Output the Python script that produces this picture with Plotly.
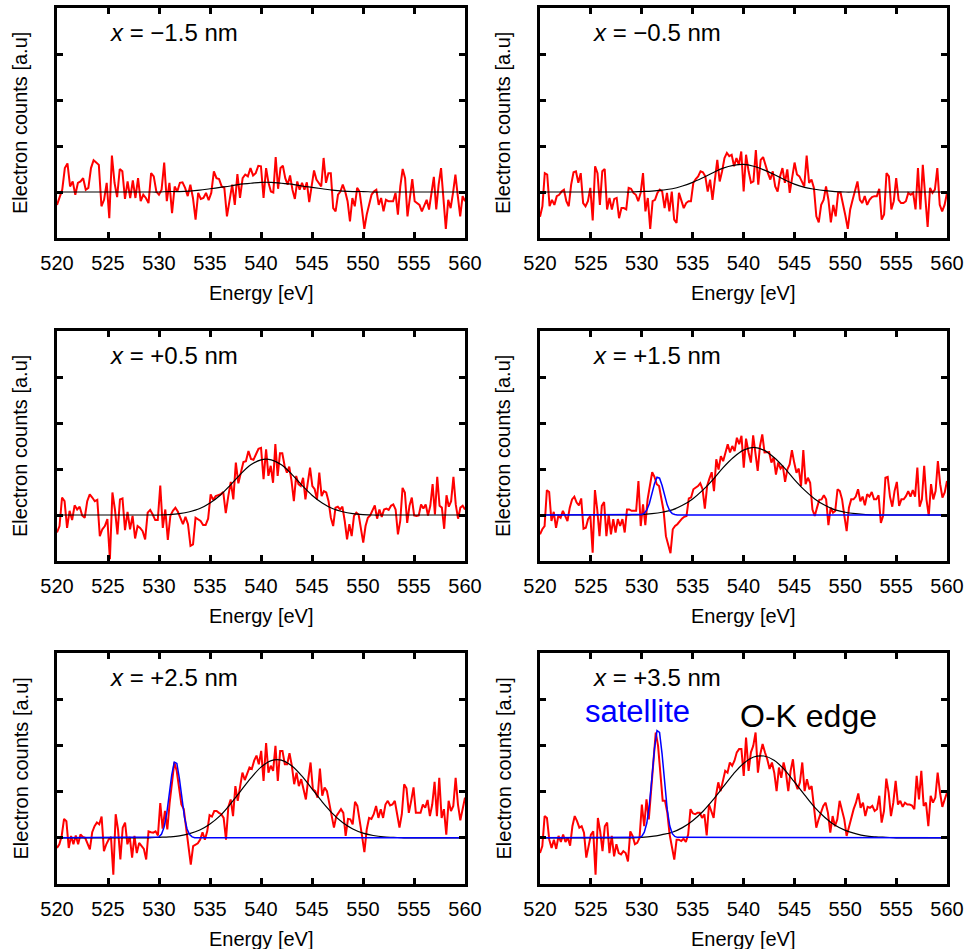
import numpy as np
import plotly.graph_objects as go

# ---------------- data ----------------
# counts in units of the y-tick spacing, baseline = 0
p1_lo = [-0.28, -0.13, 0.05, 0.52, 0.62, 0.12, 0.23, -0.06, 0.2, 0.23,
         0.3, 0.05, 0.09, 0.52, 0.69, 0.64, 0.59, -0.31, -0.17, 0.2,
         -0.57, 0.79, 0.2, -0.11, 0.5, 0.45, -0.15, 0.23, -0.13, 0.25,
         -0.13, 0.3, -0.2, -0.06, -0.13, -0.24, 0.41, 0.34, 0.01, -0.06,
         0.05, 0.64, -0.2, 0.2, -0.46, 0.12, 0.01, 0.2, 0.21, 0.09,
         -0.09, 0.16, -0.13, -0.6, -0.02, -0.15, -0.13, -0.02, -0.18, -0.02,
         0.45, 0.3, 0.28, 0.12, 0.09, -0.53, -0.13, 0.16, -0.28, 0.39,
         -0.13, 0.3, 0.38, 0.34, 0.52, 0.36, 0.41, 0.57, 0.56, -0.13]
p1_hi = [0.52, 0.2, 0.01, -0.01, 0.76, 0.07, 0.52, 0.57, 0.3, 0.16,
         0.36, 0.05, -0.15, 0.23, 0.05, 0.2, 0.05, 0.21, -0.22, 0.12,
         0.47, 0.27, 0.2, 0.12, 0.74, 0.2, 0.41, 0.41, -0.35, -0.42,
         -0.06, 0.01, 0.16, 0.01, -0.2, -0.64, -0.13, -0.31, 0.09, 0.01,
         -0.38, -0.8, -0.49, -0.28, -0.06, 0.01, 0.05, -0.28, -0.13, -0.42,
         -0.17, -0.2, -0.2, -0.2, -0.02, -0.49, 0.12, 0.5, 0.3, -0.53,
         -0.13, 0.28, -0.2, -0.24, -0.28, -0.42, -0.28, -0.17, -0.38, -0.02,
         0.33, -0.38, 0.16, 0.52, -0.06, -0.8, -0.17, -0.35, -0.02, 0.38,
         -0.09, -0.53, -0.09, -0.2]

p2_lo = [-0.54, -0.31, 0.41, 0.38, -0.31, -0.17, -0.28, -0.09, -0.06, 0.01,
         0.05, -0.2, -0.31, 0.16, 0.43, 0.45, 0.2, 0.41, -0.24, -0.31,
         -0.2, 0.09, -0.62, 0.56, 0.41, -0.28, 0.45, 0.5, -0.38, -0.13,
         -0.38, -0.15, -0.13, -0.57, -0.35, -0.35, -0.38, 0.09, 0.07, -0.02,
         -0.06, -0.2, -0.02, 0.41, -0.42, -0.13, -0.8, -0.2, -0.17, -0.02,
         0.05, 0.01, -0.35, -0.02, -0.42, 0.01, -0.6, -0.67, -0.02, -0.17,
         -0.35, -0.24, -0.2, -0.2, 0.2, 0.28, 0.34, 0.45, 0.43, 0.34,
         0.01, 0.27, -0.17, 0.27, 0.7, 0.23, 0.45, 0.74, 0.85, 0.78,
         0.81, 0.56, 0.74, 0.59, 0.88, 0.01, 0.81]
p2_hi = [0.45, 0.2, 0.23, 0.91, 0.16, 0.7, 0.76, 0.56, 0.41, 0.27,
         0.45, 0.12, 0.01, 0.34, 0.52, 0.2, 0.49, -0.02, 0.34, 0.64,
         0.38, 0.34, 0.23, 0.12, 0.79, 0.2, 0.27, 0.09, -0.53, -0.66,
         -0.28, -0.17, 0.12, -0.17, -0.66, -0.28, -0.53, -0.02, -0.01, -0.24,
         -0.51, -0.8, -0.38, -0.17, 0.01, 0.23, -0.17, -0.24, -0.09, -0.28,
         -0.17, -0.11, -0.09, -0.09, 0.07, -0.6, -0.49, 0.41, 0.34, -0.38,
         -0.2, 0.3, -0.17, -0.24, -0.24, -0.2, -0.02, -0.06, -0.02, -0.38,
         0.52, -0.38, 0.59, -0.17, -0.76, 0.09, -0.02, 0.05, 0.52, -0.28,
         -0.42, -0.28, -0.02]

p3_lo = [-0.38, -0.24, 0.38, 0.3, -0.28, 0.09, -0.11, 0.21, 0.12, 0.18,
         -0.01, -0.06, 0.3, 0.45, 0.38, 0.3, 0.33, -0.46, -0.31, -0.24,
         -0.09, -0.96, 0.49, 0.12, -0.42, 0.34, 0.36, -0.33, 0.07, -0.31,
         -0.02, -0.51, -0.24, -0.28, -0.35, -0.53, 0.05, 0.11, 0.01, -0.11,
         -0.11, 0.64, -0.28, 0.12, -0.54, -0.02, 0.09, 0.16, 0.07, -0.09,
         -0.2, -0.04, -0.2, -0.67, -0.64, -0.06, -0.09, -0.13, -0.22, -0.22,
         -0.08, 0.45, 0.33, 0.41, 0.43, 0.45, 0.5, 0.04, 0.41, 0.72,
         0.34, 1.14, 0.69, 0.92, 1.15, 1.17, 1.39, 1.22, 1.2, 1.32,
         1.44, 1.46, 0.78]
p3_hi = [1.43, 0.85, 1.07, 0.7, 1.54, 0.85, 1.34, 1.34, 1.07, 0.92,
         1.05, 0.74, 0.3, 0.85, 0.67, 0.63, 0.81, 0.34, 0.7, 1.03,
         0.63, 0.56, 0.34, 0.92, 0.41, 0.52, 0.49, 0.3, -0.06, -0.24,
         0.16, 0.18, 0.12, 0.18, -0.13, -0.53, -0.2, -0.46, -0.02, 0.05,
         0.01, -0.31, -0.6, -0.24, -0.06, -0.01, 0.09, 0.21, -0.08, 0.12,
         -0.04, 0.12, 0.14, 0.11, 0.2, 0.23, 0.12, -0.42, -0.13, 0.59,
         0.49, -0.17, 0.2, 0.38, -0.01, -0.02, -0.01, 0.23, 0.14, 0.23,
         -0.01, 0.2, 0.67, 0.01, 0.83, 0.2, 0.16, -0.3, 0.43, 0.18,
         0.3, 0.83, 0.23, -0.08, 0.16, 0.2, 0.12]

p4_lo = [-0.42, -0.31, -0.24, 0.54, 0.5, -0.13, 0.07, -0.28, -0.02, -0.06,
         0.09, -0.02, -0.13, 0.16, 0.34, 0.4, 0.27, 0.21, 0.36, -0.3,
         -0.28, -0.09, -0.02, -0.82, 0.54, 0.12, -0.46, 0.2, 0.28, -0.46,
         0.01, -0.42, -0.09, -0.38, -0.09, -0.24, -0.09, -0.38, 0.12, 0.12,
         0.09, 0.09, 0.09, 0.74, -0.24, 0.23, -0.22, 0.34, 0.63, 0.93,
         0.83, 0.67, 0.63, 0.38, 0.09, -0.46, -0.64, -0.83, -0.31, -0.24,
         -0.2, -0.13, -0.08, -0.04, -0.02, 0.36, 0.38, 0.56, 0.59, 0.63,
         0.69, 0.56, 0.14, 0.63, 0.79, 0.93, 0.52, 1.21, 0.99, 1.28,
         1.17, 1.39, 1.54, 1.36, 1.5, 1.39, 1.68, 1.54, 1.72, 1.03,
         1.66]
p4_hi = [1.36, 1.14, 1.73, 1.3, 0.96, 1.5, 1.75, 1.36, 1.36, 1.37,
         1.14, 1.25, 0.88, 1.14, 1.01, 1.07, 0.72, 0.99, 1.1, 1.41,
         1.14, 0.92, 1.01, 0.63, 1.41, 0.67, 0.81, 0.7, 0.12, -0.02,
         0.16, 0.33, 0.34, 0.43, 0.34, -0.22, 0.16, 0.05, 0.09, 0.56,
         0.52, 0.34, -0.02, -0.35, 0.16, 0.34, 0.34, 0.4, 0.56, 0.3,
         0.4, 0.21, 0.45, 0.4, 0.5, 0.34, 0.34, 0.43, -0.17, -0.02,
         0.81, 0.83, 0.4, 0.18, 0.52, 0.72, 0.2, 0.34, 0.34, 0.41,
         0.52, 0.4, 0.54, 0.4, 1.03, 0.18, 0.34, 1.07, 0.34, -0.02,
         0.67, 0.34, 0.52, 1.17, 0.67, 0.38, 0.49, 0.74]

p5_lo = [-0.22, -0.14, 0.04, 0.41, 0.36, -0.22, 0.04, -0.14, 0.05, -0.14,
         0.07, 0.02, 0.0, -0.11, -0.25, 0.12, 0.25, 0.33, 0.29, 0.46,
         -0.29, -0.14, -0.04, 0.02, -0.8, 0.51, 0.18, -0.47, 0.22, 0.33,
         -0.14, 0.02, -0.43, 0.04, -0.33, -0.11, -0.18, -0.24, -0.47, 0.14,
         0.12, 0.11, 0.14, 0.05, 0.75, 0.2, 0.58, 0.18, 0.76, 1.27,
         1.63, 1.45, 1.12, 0.72, 0.62, 0.18, -0.25, -0.58, -0.18, -0.14,
         -0.12, -0.04, 0.12, -0.04, 0.14, 0.49, 0.46, 0.58, 0.58, 0.54,
         0.51, 0.43, -0.04, 0.67, 0.83, 0.47, 1.12, 0.8, 1.16, 1.41,
         1.25, 1.38, 1.52, 1.49, 1.67, 1.78, 1.59, 1.88, 1.23]
p5_hi = [2.05, 1.41, 1.56, 1.45, 1.99, 1.23, 1.88, 1.88, 1.59, 1.59,
         1.83, 1.56, 1.16, 1.41, 1.12, 1.27, 1.05, 0.83, 1.27, 1.63,
         1.05, 1.01, 0.87, 1.5, 0.91, 1.09, 1.01, 0.76, 0.43, 0.22,
         0.47, 0.54, 0.62, 0.54, 0.04, 0.41, 0.4, 0.29, 0.78, 0.69,
         0.4, 0.04, -0.31, 0.18, 0.43, 0.41, 0.51, 0.69, 0.43, 0.62,
         0.43, 0.72, 0.8, 0.7, 0.72, 0.8, 0.51, 0.22, 0.51, 1.16,
         1.07, 0.54, 0.8, 1.09, 0.54, 0.54, 0.54, 0.72, 0.65, 0.82,
         0.47, 0.72, 1.21, 0.47, 1.3, 0.43, 0.62, 0.07, 0.8, 0.58,
         0.69, 1.3, 0.72, 0.38, 0.65, 0.87]

p6_lo = [-0.33, -0.18, 0.47, 0.43, -0.04, -0.22, -0.04, -0.24, 0.04, -0.09,
         0.07, -0.09, 0.0, -0.17, 0.25, 0.47, 0.36, 0.22, 0.25, 0.11,
         -0.43, -0.14, 0.07, 0.14, -0.8, 0.43, 0.14, -0.29, 0.25, 0.33,
         -0.33, 0.04, -0.4, -0.14, -0.33, -0.36, -0.29, -0.33, -0.51, 0.14,
         0.04, -0.14, -0.11, 0.0, 0.72, 0.25, 0.83, 0.4, 1.05, 1.81,
         2.28, 1.99, 1.41, 0.8, 0.8, 0.54, 0.07, -0.22, -0.47, -0.04,
         -0.04, -0.07, -0.02, -0.09, 0.07, 0.62, 0.53, 0.51, 0.54, 0.54,
         0.43, 0.51, 0.05, 0.72, 0.58, 0.43, 0.91, 1.2, 1.01, 1.27,
         1.45, 1.41, 1.63, 1.56, 1.67, 1.85, 1.92, 1.92, 1.34, 2.17]
p6_hi = [1.45, 1.85, 1.99, 2.28, 1.41, 1.81, 2.03, 1.85, 1.7, 1.49,
         1.63, 1.41, 1.01, 1.52, 1.3, 1.63, 1.41, 1.01, 1.45, 1.7,
         1.2, 1.05, 1.2, 1.63, 1.01, 1.27, 1.05, 1.12, 0.72, 0.22,
         0.4, 0.54, 0.69, 0.76, 0.54, 0.11, 0.47, 0.25, 0.4, 0.8,
         0.58, 0.4, 0.04, 0.25, 0.43, 0.62, 0.76, 0.96, 0.65, 0.76,
         0.47, 0.67, 0.65, 0.69, 0.58, 0.62, 0.91, 0.33, 0.58, 1.28,
         0.98, 0.47, 0.76, 1.23, 0.72, 0.8, 0.67, 0.76, 0.72, 0.72,
         0.7, 0.62, 1.34, 0.83, 1.45, 0.69, 0.76, 0.25, 0.91, 0.76,
         0.87, 1.41, 0.98, 0.67, 0.83, 0.98]

# O-K edge fits, sampled every 1 eV from 520 to 560
fit_energy = list(range(520, 561))
fit1 = [0]*11 + [0.01, 0.01, 0.02, 0.04, 0.07, 0.10, 0.13, 0.17, 0.19, 0.21,
                 0.21, 0.19, 0.17, 0.13, 0.10, 0.07, 0.04, 0.02, 0.01, 0.01] + [0]*10
fit2 = [0]*10 + [0.01, 0.02, 0.04, 0.07, 0.13, 0.21, 0.31, 0.42, 0.52, 0.58,
                 0.60, 0.56, 0.48, 0.38, 0.27, 0.17, 0.10, 0.06, 0.03, 0.01] + [0]*11
fit3 = [0]*11 + [0.01, 0.03, 0.07, 0.14, 0.26, 0.43, 0.65, 0.89, 1.09, 1.20,
                 1.20, 1.09, 0.89, 0.65, 0.43, 0.26, 0.14, 0.07, 0.03, 0.01] + [0]*10
fit4 = [0]*10 + [0.01, 0.03, 0.06, 0.11, 0.21, 0.35, 0.54, 0.77, 1.03, 1.25,
                 1.41, 1.47, 1.41, 1.25, 1.03, 0.77, 0.54, 0.35, 0.21, 0.11,
                 0.06, 0.03, 0.01] + [0]*8
fit5 = [0]*10 + [0.01, 0.02, 0.04, 0.09, 0.17, 0.30, 0.48, 0.73, 1.01, 1.29,
                 1.53, 1.67, 1.68, 1.56, 1.34, 1.06, 0.78, 0.53, 0.33, 0.19,
                 0.10, 0.05, 0.02, 0.01] + [0]*7
fit6 = [0]*10 + [0.01, 0.03, 0.07, 0.12, 0.22, 0.37, 0.57, 0.82, 1.10, 1.38,
                 1.61, 1.75, 1.77, 1.68, 1.48, 1.21, 0.93, 0.66, 0.44, 0.27,
                 0.16, 0.09, 0.04, 0.02, 0.01] + [0]*6

# satellite peak fits
sat_energy = [520, 529.75, 530.0, 530.25, 530.5, 530.75, 531.0, 531.25, 531.5,
              531.75, 532.0, 532.25, 532.5, 532.75, 533.0, 533.25, 533.5, 560]
sat4 = [0, 0.0, 0.01, 0.04, 0.11, 0.25, 0.46, 0.68, 0.82, 0.80, 0.64, 0.41,
        0.22, 0.09, 0.03, 0.01, 0.0, 0]
sat5 = [0, 0.01, 0.02, 0.08, 0.23, 0.51, 0.92, 1.36, 1.64, 1.61, 1.28, 0.83,
        0.44, 0.19, 0.07, 0.02, 0.0, 0]
sat6 = [0, 0.01, 0.03, 0.12, 0.32, 0.72, 1.30, 1.93, 2.32, 2.28, 1.81, 1.17,
        0.62, 0.26, 0.09, 0.03, 0.01, 0]

panel_labels = ["<i>x</i> = −1.5 nm", "<i>x</i> = −0.5 nm", "<i>x</i> = +0.5 nm",
                "<i>x</i> = +1.5 nm", "<i>x</i> = +2.5 nm", "<i>x</i> = +3.5 nm"]
x_ticks = [520, 525, 530, 535, 540, 545, 550, 555, 560]
y_ticks = [0, 1, 2, 3]
x_title = "Energy [eV]"
y_title = "Electron counts [a.u]"

# ---------------- figure ----------------
W, H = 969, 949
col_px = [(57, 465), (540, 947)]
row_px = [(8, 238), (331, 561), (653, 884)]

panels = [
    (p1_lo, p1_hi, fit1, None),
    (p2_lo, p2_hi, fit2, None),
    (p3_lo, p3_hi, fit3, None),
    (p4_lo, p4_hi, fit4, sat4),
    (p5_lo, p5_hi, fit5, sat5),
    (p6_lo, p6_hi, fit6, sat6),
]

fig = go.Figure()
layout = {}
annotations = []
font_family = "Liberation Sans, Arial, sans-serif"

for i, (lo, hi, fit, sat) in enumerate(panels):
    r, c = divmod(i, 2)
    sfx = "" if i == 0 else str(i + 1)
    xr, yr = "x" + sfx, "y" + sfx
    energy = np.concatenate([np.linspace(520, 540.25, len(lo)),
                             np.linspace(540.5, 560, len(hi))])
    counts = np.array(lo + hi)
    fig.add_trace(go.Scatter(x=energy, y=counts, mode="lines",
                             line=dict(color="#ff0000", width=2),
                             xaxis=xr, yaxis=yr, showlegend=False))
    fig.add_trace(go.Scatter(x=fit_energy, y=fit, mode="lines",
                             line=dict(color="black", width=1.2, shape="spline", smoothing=1),
                             xaxis=xr, yaxis=yr, showlegend=False))
    if sat is not None:
        fig.add_trace(go.Scatter(x=sat_energy, y=sat, mode="lines",
                                 line=dict(color="#0000ff", width=1.5),
                                 xaxis=xr, yaxis=yr, showlegend=False))
    x0, x1 = col_px[c]
    y0, y1 = row_px[r]
    common = dict(ticks="inside", ticklen=6, tickwidth=2.5, tickcolor="black",
                  showline=True, linewidth=3, linecolor="black", mirror="ticks",
                  showgrid=False, zeroline=False, automargin=False)
    layout["xaxis" + sfx] = dict(domain=[x0 / W, x1 / W], anchor=yr, range=[520, 560],
                                 tickvals=x_ticks, ticktext=[str(v) for v in x_ticks],
                                 tickfont=dict(size=20, color="black", family=font_family),
                                 ticklabelstandoff=5, **common)
    layout["yaxis" + sfx] = dict(domain=[1 - y1 / H, 1 - y0 / H], anchor=xr, range=[-1, 4],
                                 tickvals=y_ticks, showticklabels=False, **common)
    # panel label
    annotations.append(dict(text=panel_labels[i], xref=xr + " domain", yref=yr + " domain",
                            x=0.125, y=0.895, xanchor="left", yanchor="middle",
                            showarrow=False, font=dict(size=24, color="black", family=font_family)))
    # axis titles
    annotations.append(dict(text=x_title, xref="paper", yref="paper",
                            x=(x0 + x1) / 2 / W, y=1 - (y1 + 55) / H,
                            xanchor="center", yanchor="middle", showarrow=False,
                            font=dict(size=20, color="black", family=font_family)))
    annotations.append(dict(text=y_title, xref="paper", yref="paper",
                            x=(x0 - 37) / W, y=1 - (y0 + y1) / 2 / H, textangle=-90,
                            xanchor="center", yanchor="middle", showarrow=False,
                            font=dict(size=20, color="black", family=font_family)))

annotations.append(dict(text="satellite", xref="x6 domain", yref="y6 domain",
                        x=0.106, y=0.745, xanchor="left", yanchor="middle", showarrow=False,
                        font=dict(size=31, color="#0000ff", family=font_family)))
annotations.append(dict(text="O-K edge", xref="x6 domain", yref="y6 domain",
                        x=0.486, y=0.728, xanchor="left", yanchor="middle", showarrow=False,
                        font=dict(size=32, color="black", family=font_family)))

fig.update_layout(width=W, height=H, margin=dict(l=0, r=0, t=0, b=0),
                  plot_bgcolor="white", paper_bgcolor="white",
                  font=dict(family=font_family, color="black"),
                  annotations=annotations, **layout)

fig.write_html("out.html")
